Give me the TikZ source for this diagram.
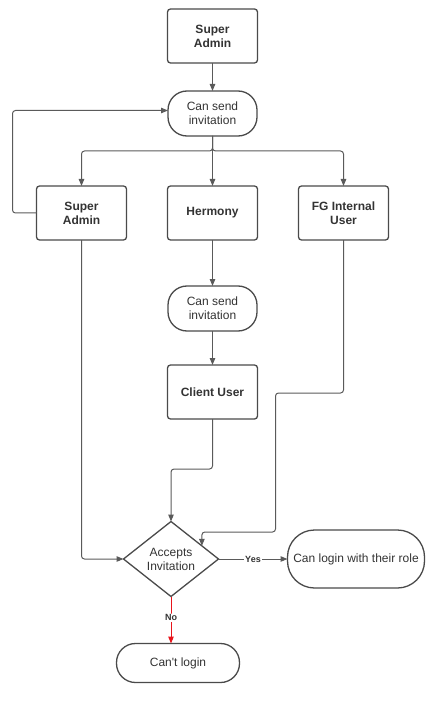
\documentclass[tikz,border=0pt]{standalone}
\usepackage{fontspec}
\setmainfont{Liberation Sans}
\usepackage{xcolor}
\usetikzlibrary{arrows.meta, positioning, shapes.geometric, calc}
\definecolor{edgegray}{HTML}{5A5A5A}
\definecolor{framegray}{HTML}{4A4A4A}
\definecolor{txtgray}{HTML}{333333}
\definecolor{noRed}{HTML}{E8141B}

\begin{document}
\begin{tikzpicture}[x=1pt, y=1pt, >={Triangle[length=7pt, width=5.5pt]},
    font=\fontsize{12}{14}\selectfont, text=txtgray,
    userbox/.style={draw=framegray, line width=1.3pt, rounded corners=3pt, align=center, font=\fontsize{12}{14}\selectfont\bfseries, minimum width=90pt, minimum height=54pt, inner sep=2pt, outer sep=0pt},
    pill/.style={draw=framegray, line width=1.3pt, rounded corners=19pt, align=center, minimum width=89pt, minimum height=45pt, inner sep=2pt, outer sep=0pt},
    decision/.style={draw=framegray, line width=1.3pt, diamond, aspect=1.27, align=center, minimum width=95pt, minimum height=75pt, inner sep=1pt, outer sep=0pt},
    flow/.style={draw=edgegray, line width=1pt, ->, rounded corners=3pt},
    edgelabel/.style={fill=white, inner sep=1pt, font=\fontsize{9}{10}\selectfont\bfseries}]
    \useasboundingbox (0,0) rectangle (439,-703);

    % top of the chain
    \node[userbox] (sa1) at (212.5,-36) {Super\\Admin};
    \node[pill, below=28pt of sa1] (inv1) {Can send\\invitation};

    % three kinds of users
    \node[userbox, below=50pt of inv1] (hermony) {Hermony};
    \node[userbox, left=41pt of hermony] (sa2) {Super\\Admin};
    \node[userbox, right=41pt of hermony] (fgUser) {FG Internal\\User};

    \node[pill, below=46pt of hermony] (inv2) {Can send\\invitation};
    \node[userbox, below=34pt of inv2] (client) {Client User};

    % decision and outcomes
    \node[decision] (accept) at (171,-559) {Accepts\\Invitation};
    \node[pill, right=69pt of accept, minimum width=137pt, minimum height=58pt, rounded corners=27pt, inner sep=0pt] (login) {Can login with their role};
    \node[pill, below=47pt of accept, xshift=7pt, minimum width=123pt, minimum height=39pt] (cant) {Can\textquotesingle t login};

    \draw[flow] (sa1) -- (inv1);
    \draw[flow] (inv1) -- (hermony);
    \draw[flow] (inv1.south) -- ++(0,-15) -| (sa2.north);
    \draw[flow] (inv1.south) -- ++(0,-15) -| (fgUser.north);
    \draw[flow] (sa2.west) -- ++(-24,0) |- ([yshift=3pt]inv1.west);

    \draw[flow] (hermony) -- (inv2);
    \draw[flow] (inv2) -- (client);

    \draw[flow] (client.south) -- ++(0,-50) -| (accept.north);
    \draw[flow] (fgUser.south) -- ++(0,-153) -- ++(-68,0) -- ++(0,-139) -| ($(accept.north)!0.65!(accept.east)$);
    \draw[flow] (sa2.south) |- (accept.west);

    \draw[flow] (accept.east) -- node[edgelabel, pos=0.5] {Yes} (login.west);
    \draw[flow, draw=noRed, -{Triangle[length=7pt, width=5.5pt, fill=noRed]}] (accept.south) -- node[edgelabel, pos=0.45] {No} (accept.south |- cant.north);

\end{tikzpicture}
\end{document}
